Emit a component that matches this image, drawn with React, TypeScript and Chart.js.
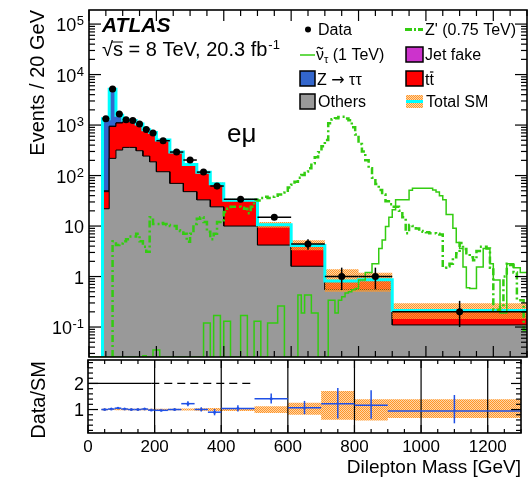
import React, { useEffect, useRef } from 'react';
import { Chart, registerables } from 'chart.js';

Chart.register(...registerables);

// Dilepton mass bin edges [GeV]
const binEdges = [40, 60, 80, 100, 120, 140, 160, 180, 200, 240, 280, 320, 360, 400, 500, 600, 700, 800, 900, 1300];

// Observed events / 20 GeV with asymmetric errors
const dataValues = [1330, 5200, 1650, 1280, 1230, 1050, 820, 700, 490, 292, 203, 117, 62, 34, 15, 4.4, 1.0, 1.0, 0.2];
const dataErrUp = [36, 72, 41, 36, 35, 32, 29, 26, 16, 12, 16, 9.4, 8.3, 3.9, 2.1, 1.1, 0.5, 0.5, 0.13];
const dataErrDown = [36, 72, 41, 36, 35, 32, 29, 26, 16, 12, 16, 9.4, 8.3, 3.9, 1.9, 1.0, 0.46, 0.44, 0.1];

// Background expectations / 20 GeV
const others = [22, 219, 320, 361, 361, 310, 243, 187, 119, 70, 48, 33, 24, 10, 4.2, 1.6, 0.55, 0.55, 0.11];
const ttbar = [26, 721, 778, 839, 839, 719, 547, 516, 377, 216, 114, 81, 43.5, 21.8, 6.1, 2.4, 0.24, 0.28, 0.096];
const jetFake = [2, 10, 12, 15, 15, 13, 10, 8, 6, 4, 2.5, 1.8, 1.0, 0.5, 0.2, 0.08, 0.02, 0.02, 0.004];
const zTauTau = [1280, 4150, 460, 40, 15, 8, 5, 4, 3, 2, 1.2, 0.8, 0.5, 0.3, 0.1, 0.05, 0.01, 0.01, 0.002];

// Relative uncertainty of the total SM prediction
const bandUp = [0.03, 0.02, 0.03, 0.03, 0.03, 0.03, 0.03, 0.03, 0.03, 0.03, 0.04, 0.05, 0.06, 0.06, 0.13, 0.26, 0.71, 0.39, 0.39];
const bandDown = [0.03, 0.02, 0.03, 0.03, 0.03, 0.03, 0.03, 0.03, 0.03, 0.03, 0.04, 0.05, 0.06, 0.06, 0.13, 0.2, 0.39, 0.42, 0.32];

// Signal templates in 10 GeV bins starting at 0 GeV (events / 20 GeV)
const signalStart = 0;
const signalWidth = 10;
const zPrime = [
  0, 0, 0, 0, 0, 0, 0, 5.0, 4.2, 4.5,
  5.0, 5.5, 6.2, 6.2, 7.0, 5.0, 3.9, 3.1, 15, 11,
  11, 11.5, 11, 10.5, 10, 10, 8.3, 8, 7, 4.9,
  7, 11, 14, 15, 12, 7.7, 5.5, 7, 12, 13,
  19, 22, 24, 24, 24, 23, 22, 18, 24, 33,
  32, 36, 38, 36, 38, 40, 42, 46, 50, 58,
  66, 75, 90, 102, 120, 140, 175, 230, 290, 380,
  505, 1080, 1300, 1360, 1450, 1460, 1350, 1250, 900, 650,
  420, 300, 200, 140, 90, 68, 52, 42, 31, 27,
  24, 24, 20, 15, 7.2, 10.5, 10, 8.9, 8, 7.7,
  7.5, 7.2, 7.2, 7, 6.8, 1.5, 1.6, 1.8, 2.4, 2.9,
  4.6, 3.5, 2.9, 2.4, 2.1, 3.2, 3.9, 3.9, 3.6, 1.5,
  0.22, 0.22, 0.25, 1.0, 1.8, 1.7, 1.2, 0.34, 0.34, 0.087,
];
const sneutrino = [
  0, 0, 0, 0, 0, 0, 0, 0, 0, 0,
  0, 0, 0, 0, 0, 0, 0.027, 0, 0, 0.035,
  0.035, 0, 0, 0, 0, 0, 0, 0, 0, 0,
  0, 0, 0, 0, 0.12, 0.12, 0, 0.17, 0.17, 0,
  0.13, 0.13, 0, 0, 0, 0.17, 0.17, 0, 0, 0.13,
  0.13, 0, 0, 0.12, 0.12, 0.12, 0.26, 0.26, 0, 0,
  0, 0, 0.43, 0.19, 0.43, 0.43, 0.19, 0.19, 0, 0,
  0, 0.34, 0.34, 0.19, 0.34, 0.4, 0.47, 0.5, 0.55, 0.58,
  0.85, 0.85, 1.2, 1.2, 1.8, 1.8, 3.6, 5.3, 9.8, 15,
  21, 33, 33, 33, 33, 51, 56, 56, 56, 56,
  56, 56, 52, 47, 40, 33, 17, 17, 9, 4.7,
  3.6, 1.55, 0.6, 0.58, 0.58, 1.55, 1.55, 3.6, 3.6, 1.8,
  0.85, 0.85, 0.19, 0.19, 1.8, 1.8, 1.5, 1.5, 1.2, 1.2,
];

// Axis ticks
const massTicks = [0, 200, 400, 600, 800, 1000, 1200];
const decadeExponents = [-1, 0, 1, 2, 3, 4, 5];
const ratioTicks = [1, 2];

const X_MIN = 0;
const X_MAX = 1300;
const Y_MIN = 0.0255;
const Y_MAX = 1.9e5;
const R_MIN = 0.1;
const R_MAX = 2.9;

const FONT = '"Liberation Sans", Arial, Helvetica, sans-serif';
const SYMBOL_FONT = '"DejaVu Sans", "Liberation Sans", sans-serif';
const GREEN = '#33cc11';
const BLUE = '#3366cc';
const RED = '#ff0000';
const GREY = '#999999';
const MAGENTA = '#cc33cc';
const CYAN = '#00ffff';
const RATIO_BLUE = '#1f50e6';

type Pt = { x: number; y: number };

function steps(edges: number[], values: number[], floor: number): Pt[] {
  const pts: Pt[] = [];
  values.forEach((v, i) => {
    const y = Math.max(v, floor);
    pts.push({ x: edges[i], y }, { x: edges[i + 1], y });
  });
  return pts;
}

const sum = (...arrs: number[][]) => arrs[0].map((_, i) => arrs.reduce((s, a) => s + a[i], 0));
const cumOthers = others;
const cumTtbar = sum(others, ttbar);
const cumJet = sum(others, ttbar, jetFake);
const totalSM = sum(others, ttbar, jetFake, zTauTau);
const binCenters = dataValues.map((_, i) => (binEdges[i] + binEdges[i + 1]) / 2);
const signalEdges = Array.from({ length: zPrime.length + 1 }, (_, i) => signalStart + i * signalWidth);

function makeHatch(): CanvasPattern | string {
  const tile = document.createElement('canvas');
  tile.width = 4;
  tile.height = 4;
  const t = tile.getContext('2d');
  if (!t) return '#ffb060';
  for (let i = 0; i < 4; i++) {
    for (let j = 0; j < 4; j++) {
      t.fillStyle = (i + j) % 2 === 0 ? 'rgba(255,150,40,1)' : 'rgba(255,160,60,0.45)';
      t.fillRect(i, j, 1, 1);
    }
  }
  const ctx = document.createElement('canvas').getContext('2d');
  return (ctx && ctx.createPattern(tile, 'repeat')) || '#ffb060';
}

function seg(ctx: CanvasRenderingContext2D, x1: number, y1: number, x2: number, y2: number) {
  ctx.beginPath();
  ctx.moveTo(x1, y1);
  ctx.lineTo(x2, y2);
  ctx.stroke();
}

function drawLegend(ctx: CanvasRenderingContext2D, hatch: CanvasPattern | string) {
  ctx.save();
  ctx.fillStyle = '#000';
  ctx.textAlign = 'left';
  ctx.textBaseline = 'alphabetic';
  ctx.font = `16px ${FONT}`;

  // Data
  ctx.beginPath();
  ctx.arc(308, 29.5, 3, 0, Math.PI * 2);
  ctx.fill();
  ctx.fillText('Data', 318, 35);

  // Sneutrino: nu with tilde accent, tau subscript
  ctx.strokeStyle = GREEN;
  ctx.lineWidth = 1.5;
  seg(ctx, 300, 55, 315, 55);
  let tx = 316;
  ctx.fillText('\u03bd', tx, 60);
  const wNu = ctx.measureText('\u03bd').width;
  ctx.strokeStyle = '#000';
  ctx.lineWidth = 1.1;
  ctx.beginPath();
  ctx.moveTo(tx + 1, 48.5);
  ctx.quadraticCurveTo(tx + wNu * 0.3, 46.5, tx + wNu * 0.5, 48);
  ctx.quadraticCurveTo(tx + wNu * 0.7, 49.5, tx + wNu - 1, 47.5);
  ctx.stroke();
  tx += wNu;
  ctx.font = `11px ${FONT}`;
  ctx.fillText('\u03c4', tx, 63);
  tx += ctx.measureText('\u03c4').width;
  ctx.font = `16px ${FONT}`;
  ctx.fillText(' (1 TeV)', tx, 60);

  // Z'
  ctx.strokeStyle = GREEN;
  ctx.lineWidth = 3;
  ctx.setLineDash([7, 2, 2, 2]);
  seg(ctx, 405, 29.5, 423, 29.5);
  ctx.setLineDash([]);
  ctx.fillText("Z' (0.75 TeV)", 425, 35);

  const box = (x: number, y: number, w: number, h: number, fill: CanvasPattern | string, border = true) => {
    ctx.fillStyle = fill;
    ctx.fillRect(x, y, w, h);
    if (border) {
      ctx.strokeStyle = '#000';
      ctx.lineWidth = 1.5;
      ctx.strokeRect(x, y, w, h);
    }
    ctx.fillStyle = '#000';
  };

  box(406, 47, 17, 15, MAGENTA);
  ctx.fillText('Jet fake', 425, 60);

  box(300, 71, 15, 15, BLUE);
  let zx = 317;
  ctx.fillText('Z ', zx, 85);
  zx += ctx.measureText('Z ').width;
  ctx.font = `16px ${SYMBOL_FONT}`;
  ctx.fillText('\u2192', zx, 85);
  zx += ctx.measureText('\u2192').width;
  ctx.font = `16px ${FONT}`;
  ctx.fillText(' \u03c4\u03c4', zx, 85);

  box(406, 71, 17, 15, RED);
  ctx.fillText('tt', 425, 85);
  const wt = ctx.measureText('t').width;
  ctx.strokeStyle = '#000';
  ctx.lineWidth = 1.2;
  seg(ctx, 425 + wt + 0.5, 72, 425 + 2 * wt - 0.5, 72);

  box(300, 94, 15, 15, GREY);
  ctx.fillText('Others', 318, 107);

  box(406, 95, 17, 13, hatch, false);
  ctx.strokeStyle = CYAN;
  ctx.lineWidth = 3;
  seg(ctx, 406, 101.5, 423, 101.5);
  ctx.fillText('Total SM', 426, 107);
  ctx.restore();
}

function mainPlugin(hatch: CanvasPattern | string) {
  return {
    id: 'mainDecor',
    afterDatasetsDraw(chart: any) {
      const { ctx, chartArea: a, scales } = chart;
      const x = scales.x;
      const y = scales.y;
      ctx.save();
      ctx.beginPath();
      ctx.rect(a.left, a.top, a.right - a.left, a.bottom - a.top);
      ctx.clip();
      ctx.strokeStyle = '#000';
      ctx.lineWidth = 1.5;
      dataValues.forEach((v, i) => {
        const cx = x.getPixelForValue(binCenters[i]);
        const cy = y.getPixelForValue(v);
        seg(ctx, x.getPixelForValue(binEdges[i]), cy, x.getPixelForValue(binEdges[i + 1]), cy);
        seg(ctx, cx, y.getPixelForValue(v + dataErrUp[i]), cx, y.getPixelForValue(Math.max(v - dataErrDown[i], Y_MIN)));
      });
      ctx.restore();
    },
    afterDraw(chart: any) {
      const { ctx, chartArea: a, scales } = chart;
      const x = scales.x;
      const y = scales.y;
      ctx.save();
      ctx.strokeStyle = '#000';
      ctx.lineWidth = 1.2;
      // y ticks (inward, both sides)
      for (let e = -2; e <= 5; e++) {
        for (let m = 1; m <= 9; m++) {
          const v = m * Math.pow(10, e);
          if (v < Y_MIN || v > Y_MAX) continue;
          const py = y.getPixelForValue(v);
          const len = m === 1 ? 12 : 6;
          seg(ctx, a.left, py, a.left + len, py);
          seg(ctx, a.right, py, a.right - len, py);
        }
      }
      // x ticks (inward, top and bottom)
      for (let v = X_MIN; v <= X_MAX; v += 50) {
        const px = x.getPixelForValue(v);
        const len = v % 200 === 0 ? 11 : 6;
        seg(ctx, px, a.bottom, px, a.bottom - len);
        seg(ctx, px, a.top, px, a.top + len);
      }
      ctx.lineWidth = 1.6;
      ctx.strokeRect(a.left, a.top, a.right - a.left, a.bottom - a.top);

      // y tick labels with exponents
      ctx.fillStyle = '#000';
      ctx.textAlign = 'left';
      ctx.textBaseline = 'alphabetic';
      const right = 84;
      decadeExponents.forEach((e) => {
        const py = y.getPixelForValue(Math.pow(10, e));
        if (e === 0 || e === 1) {
          ctx.font = `18px ${FONT}`;
          const s = e === 0 ? '1' : '10';
          ctx.fillText(s, right - ctx.measureText(s).width, py + 7);
        } else {
          ctx.font = `13px ${FONT}`;
          const ex = e < 0 ? '-' + Math.abs(e) : String(e);
          const we = ctx.measureText(ex).width;
          ctx.fillText(ex, right - we, py + 1);
          ctx.font = `18px ${FONT}`;
          const wb = ctx.measureText('10').width;
          ctx.fillText('10', right - we - wb - 0.5, py + 7);
        }
      });

      // y title
      ctx.save();
      ctx.translate(44, 10);
      ctx.rotate(-Math.PI / 2);
      ctx.textAlign = 'right';
      ctx.font = `20px ${FONT}`;
      ctx.fillText('Events / 20 GeV', 0, 0);
      ctx.restore();

      // ATLAS label
      ctx.font = `italic bold 21px ${FONT}`;
      ctx.fillText('ATLAS', 102, 32);
      ctx.font = `20px ${FONT}`;
      const rootW = ctx.measureText('\u221a').width;
      const sW = ctx.measureText('s').width;
      const mainTxt = '\u221as = 8 TeV, 20.3 fb';
      ctx.fillText(mainTxt, 102, 56);
      ctx.lineWidth = 1;
      seg(ctx, 102 + rootW - 1, 42, 102 + rootW + sW, 42);
      const wMain = ctx.measureText(mainTxt).width;
      ctx.font = `13px ${FONT}`;
      ctx.fillText('-1', 102 + wMain + 1, 49);

      // channel label
      ctx.font = `26px ${FONT}`;
      ctx.fillText('e\u03bc', 227, 142);

      drawLegend(ctx, hatch);
      ctx.restore();
    },
  };
}

function ratioPlugin() {
  return {
    id: 'ratioDecor',
    afterDatasetsDraw(chart: any) {
      const { ctx, chartArea: a, scales } = chart;
      const x = scales.x;
      const y = scales.y;
      ctx.save();
      ctx.beginPath();
      ctx.rect(a.left, a.top, a.right - a.left, a.bottom - a.top);
      ctx.clip();
      // vertical grid
      ctx.strokeStyle = '#000';
      ctx.lineWidth = 1.2;
      massTicks.forEach((v) => {
        if (v === X_MIN) return;
        const px = x.getPixelForValue(v);
        seg(ctx, px, a.top, px, a.bottom);
      });
      // reference line at 2
      const p2 = y.getPixelForValue(2);
      seg(ctx, x.getPixelForValue(0), p2, x.getPixelForValue(190), p2);
      ctx.setLineDash([8, 5]);
      seg(ctx, x.getPixelForValue(190), p2, x.getPixelForValue(500), p2);
      ctx.setLineDash([]);
      // data / SM
      ctx.strokeStyle = RATIO_BLUE;
      ctx.lineWidth = 1.5;
      dataValues.forEach((v, i) => {
        const r = v / totalSM[i];
        const cx = x.getPixelForValue(binCenters[i]);
        const cy = y.getPixelForValue(r);
        seg(ctx, x.getPixelForValue(binEdges[i]), cy, x.getPixelForValue(binEdges[i + 1]), cy);
        seg(ctx, cx, y.getPixelForValue(r + dataErrUp[i] / totalSM[i]), cx, y.getPixelForValue(r - dataErrDown[i] / totalSM[i]));
      });
      ctx.restore();
    },
    afterDraw(chart: any) {
      const { ctx, chartArea: a, scales } = chart;
      const x = scales.x;
      const y = scales.y;
      ctx.save();
      ctx.strokeStyle = '#000';
      ctx.lineWidth = 1.2;
      for (let k = 1; k <= 14; k++) {
        const v = k * 0.2;
        if (v < R_MIN || v > R_MAX) continue;
        const py = y.getPixelForValue(v);
        const major = Math.abs(v - Math.round(v)) < 1e-6;
        const len = major ? 10 : 5;
        seg(ctx, a.left, py, a.left + len, py);
        seg(ctx, a.right, py, a.right - len, py);
      }
      for (let v = X_MIN; v <= X_MAX; v += 50) {
        const px = x.getPixelForValue(v);
        const len = v % 200 === 0 ? 8 : 4;
        seg(ctx, px, a.bottom, px, a.bottom - len);
        seg(ctx, px, a.top, px, a.top + len);
      }
      ctx.lineWidth = 1.6;
      ctx.strokeRect(a.left, a.top, a.right - a.left, a.bottom - a.top);

      ctx.fillStyle = '#000';
      ctx.textBaseline = 'alphabetic';
      ctx.font = `18px ${FONT}`;
      ctx.textAlign = 'right';
      ratioTicks.forEach((v) => ctx.fillText(String(v), 84, y.getPixelForValue(v) + 6.5));
      ctx.textAlign = 'center';
      ctx.font = `17px ${FONT}`;
      massTicks.forEach((v) => ctx.fillText(String(v), x.getPixelForValue(v), 452));
      ctx.textAlign = 'right';
      ctx.font = `19px ${FONT}`;
      ctx.fillText('Dilepton Mass [GeV]', 521, 473);

      ctx.save();
      ctx.translate(45, 361);
      ctx.rotate(-Math.PI / 2);
      ctx.textAlign = 'right';
      ctx.font = `20px ${FONT}`;
      ctx.fillText('Data/SM', 0, 0);
      ctx.restore();
      ctx.restore();
    },
  };
}

const lineBase = { pointRadius: 0, tension: 0 };

function mainConfig(hatch: CanvasPattern | string): any {
  const lead = { x: binEdges[0], y: Y_MIN };
  const stack = (vals: number[], color: string, order: number) => ({
    ...lineBase,
    data: [lead, ...steps(binEdges, vals, Y_MIN)],
    borderColor: '#000',
    borderWidth: 1,
    backgroundColor: color,
    fill: 'start',
    order,
  });
  const zStart = zPrime.findIndex((v) => v > 0);
  return {
    type: 'line',
    data: {
      datasets: [
        stack(totalSM, BLUE, 9),
        stack(cumJet, MAGENTA, 8),
        stack(cumTtbar, RED, 7),
        stack(cumOthers, GREY, 6),
        {
          ...lineBase,
          data: steps(binEdges, totalSM.map((t, i) => t * (1 + bandUp[i])), Y_MIN),
          borderWidth: 0,
          fill: false,
          order: 5,
        },
        {
          ...lineBase,
          data: steps(binEdges, totalSM.map((t, i) => t * (1 - bandDown[i])), Y_MIN),
          borderWidth: 0,
          backgroundColor: hatch,
          fill: '-1',
          order: 4,
        },
        {
          ...lineBase,
          data: [lead, ...steps(binEdges, totalSM, Y_MIN)],
          borderColor: CYAN,
          borderWidth: 3,
          fill: false,
          order: 3,
        },
        {
          ...lineBase,
          data: [
            { x: signalEdges[zStart], y: Y_MIN },
            ...steps(signalEdges.slice(zStart), zPrime.slice(zStart), Y_MIN),
          ],
          borderColor: GREEN,
          borderWidth: 2.5,
          borderDash: [7, 3, 2, 3],
          fill: false,
          order: 2,
        },
        {
          ...lineBase,
          data: steps(signalEdges, sneutrino, Y_MIN),
          borderColor: GREEN,
          borderWidth: 1.5,
          fill: false,
          order: 1,
        },
        {
          data: dataValues.map((v, i) => ({ x: binCenters[i], y: v })),
          showLine: false,
          pointRadius: 3.5,
          pointBackgroundColor: '#000',
          pointBorderColor: '#000',
          pointBorderWidth: 0,
          order: 0,
        },
      ],
    },
    options: {
      responsive: false,
      devicePixelRatio: 1,
      animation: false,
      events: [],
      layout: { padding: { left: 89, right: 1, top: 10, bottom: 123 } },
      plugins: { legend: { display: false }, tooltip: { enabled: false } },
      scales: {
        x: { type: 'linear', min: X_MIN, max: X_MAX, display: false },
        y: { type: 'logarithmic', min: Y_MIN, max: Y_MAX, display: false },
      },
    },
    plugins: [mainPlugin(hatch)],
  };
}

function ratioConfig(hatch: CanvasPattern | string): any {
  return {
    type: 'line',
    data: {
      datasets: [
        {
          ...lineBase,
          data: steps(binEdges, bandUp.map((u) => 1 + u), R_MIN),
          borderWidth: 0,
          fill: false,
        },
        {
          ...lineBase,
          data: steps(binEdges, bandDown.map((d) => 1 - d), R_MIN),
          borderWidth: 0,
          backgroundColor: hatch,
          fill: '-1',
        },
        {
          data: dataValues.map((v, i) => ({ x: binCenters[i], y: v / totalSM[i] })),
          showLine: false,
          pointRadius: 1.5,
          pointBackgroundColor: RATIO_BLUE,
          pointBorderWidth: 0,
        },
      ],
    },
    options: {
      responsive: false,
      devicePixelRatio: 1,
      animation: false,
      events: [],
      layout: { padding: { left: 88, right: 10, top: 360, bottom: 47 } },
      plugins: { legend: { display: false }, tooltip: { enabled: false } },
      scales: {
        x: { type: 'linear', min: X_MIN, max: X_MAX, display: false },
        y: { type: 'linear', min: R_MIN, max: R_MAX, display: false },
      },
    },
    plugins: [ratioPlugin()],
  };
}

export default function App() {
  const mainRef = useRef<HTMLCanvasElement>(null);
  const ratioRef = useRef<HTMLCanvasElement>(null);

  useEffect(() => {
    if (!mainRef.current || !ratioRef.current) return;
    const hatch = makeHatch();
    const ratio = new Chart(ratioRef.current, ratioConfig(hatch));
    const main = new Chart(mainRef.current, mainConfig(hatch));
    return () => {
      main.destroy();
      ratio.destroy();
    };
  }, []);

  return (
    <div style={{ position: 'fixed', left: 0, top: 0, width: 531, height: 480, background: '#fff' }}>
      <canvas ref={ratioRef} width={531} height={480} style={{ position: 'absolute', left: 0, top: 0 }} />
      <canvas ref={mainRef} width={531} height={480} style={{ position: 'absolute', left: 0, top: 0 }} />
    </div>
  );
}
